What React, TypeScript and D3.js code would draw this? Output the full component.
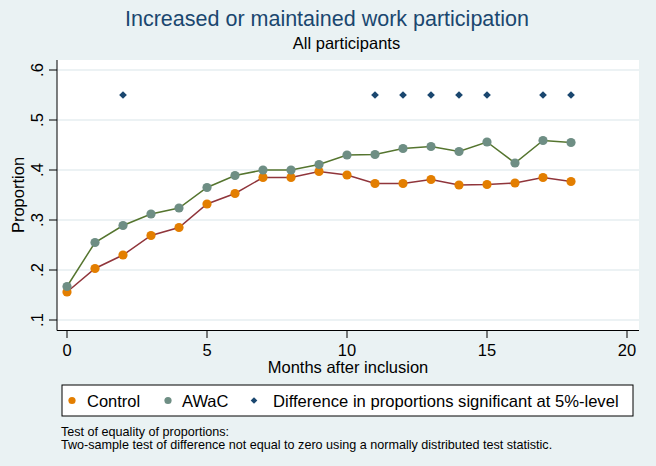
import React from "react";
import * as d3 from "d3";

const months = [0, 1, 2, 3, 4, 5, 6, 7, 8, 9, 10, 11, 12, 13, 14, 15, 16, 17, 18];
const controlValues = [0.156, 0.203, 0.23, 0.269, 0.285, 0.332, 0.353, 0.385, 0.385, 0.397, 0.39, 0.373, 0.373, 0.381, 0.37, 0.371, 0.374, 0.385, 0.377];
const awacValues = [0.167, 0.255, 0.289, 0.312, 0.324, 0.365, 0.389, 0.4, 0.4, 0.411, 0.43, 0.431, 0.443, 0.447, 0.437, 0.456, 0.414, 0.459, 0.455];
const sigMonths = [2, 11, 12, 13, 14, 15, 17, 18];
const sigLevel = 0.55;
const yTicks = [0.1, 0.2, 0.3, 0.4, 0.5, 0.6];
const yTickLabels = [".1", ".2", ".3", ".4", ".5", ".6"];
const xTicks = [0, 5, 10, 15, 20];
const legendLabels = ["Control", "AWaC", "Difference in proportions significant at 5%-level"];
const noteLines = [
  "Test of equality of proportions:",
  "Two-sample test of difference not equal to zero using a normally distributed test statistic.",
];

const FONT = "'Liberation Sans', Arial, Helvetica, sans-serif";
const C_NAVY = "#1a476f";
const C_MAROON = "#90353b";
const C_GREEN = "#55752f";
const C_ORANGE = "#e37e00";
const C_TEAL = "#6e8e84";

export default function App() {
  const W = 656, H = 466;
  const plot = { left: 57, right: 639, top: 60, bottom: 330.5 };
  const x = d3.scaleLinear().domain([0, 20]).range([67, 627]);
  const y = d3.scaleLinear().domain([0.1, 0.6]).range([320, 70]);

  const line = d3
    .line<number>()
    .x((_, i) => x(months[i]))
    .y((d) => y(d));

  const diamond = d3.symbol().type(d3.symbolSquare).size(30)() as string;

  return (
    <svg
      width={W}
      height={H}
      style={{ position: "absolute", left: 0, top: 0, display: "block" }}
      fontFamily={FONT}
    >
      <rect x={0} y={0} width={W} height={H} fill="#eaf2f3" />
      <rect x={plot.left} y={plot.top} width={plot.right - plot.left} height={plot.bottom - plot.top} fill="#ffffff" />

      {/* gridlines */}
      {yTicks.map((t) => (
        <line key={"g" + t} x1={plot.left} x2={plot.right} y1={y(t)} y2={y(t)} stroke="#e6eef0" strokeWidth={1.4} />
      ))}

      {/* titles */}
      <text x={327} y={26} textAnchor="middle" fontSize={21.5} fill={C_NAVY}>
        Increased or maintained work participation
      </text>
      <text x={346.5} y={49} textAnchor="middle" fontSize={16.5} fill="#000">
        All participants
      </text>

      {/* y axis */}
      <line x1={plot.left} x2={plot.left} y1={plot.top} y2={plot.bottom} stroke="#000" strokeWidth={1} />
      {yTicks.map((t, i) => (
        <g key={"y" + t}>
          <line x1={49} x2={plot.left} y1={y(t)} y2={y(t)} stroke="#000" strokeWidth={1} />
          <text
            transform={`translate(42.5,${y(t)}) rotate(-90)`}
            textAnchor="middle"
            fontSize={16.5}
            fill="#000"
          >
            {yTickLabels[i]}
          </text>
        </g>
      ))}
      <text transform={`translate(24,195) rotate(-90)`} textAnchor="middle" fontSize={16.5} fill="#000">
        Proportion
      </text>

      {/* x axis */}
      <line x1={plot.left} x2={plot.right} y1={plot.bottom} y2={plot.bottom} stroke="#000" strokeWidth={1} />
      {xTicks.map((t) => (
        <g key={"x" + t}>
          <line x1={x(t)} x2={x(t)} y1={plot.bottom} y2={338} stroke="#000" strokeWidth={1} />
          <text x={x(t)} y={356} textAnchor="middle" fontSize={16.5} fill="#000">
            {t}
          </text>
        </g>
      ))}
      <text x={348} y={373} textAnchor="middle" fontSize={16.5} fill="#000">
        Months after inclusion
      </text>

      {/* series */}
      <path d={line(controlValues) || ""} fill="none" stroke={C_MAROON} strokeWidth={1.5} />
      <path d={line(awacValues) || ""} fill="none" stroke={C_GREEN} strokeWidth={1.5} />
      {controlValues.map((v, i) => (
        <circle key={"c" + i} cx={x(months[i])} cy={y(v)} r={4.6} fill={C_ORANGE} />
      ))}
      {awacValues.map((v, i) => (
        <circle key={"a" + i} cx={x(months[i])} cy={y(v)} r={4.6} fill={C_TEAL} />
      ))}
      {sigMonths.map((m) => (
        <path key={"s" + m} d={diamond} transform={`translate(${x(m)},${y(sigLevel)}) rotate(45)`} fill={C_NAVY} />
      ))}

      {/* legend */}
      <rect x={62} y={385} width={571} height={31} fill="#fff" stroke="#000" strokeWidth={1} />
      <circle cx={72} cy={400.5} r={3.6} fill={C_ORANGE} />
      <text x={87} y={406.5} fontSize={16.5} fill="#000">{legendLabels[0]}</text>
      <circle cx={168} cy={400.5} r={3.6} fill={C_TEAL} />
      <text x={182} y={406.5} fontSize={16.5} fill="#000">{legendLabels[1]}</text>
      <path d={d3.symbol().type(d3.symbolSquare).size(22)() as string} transform={`translate(254,400.5) rotate(45)`} fill={C_NAVY} />
      <text x={273} y={406.5} fontSize={16.6} fill="#000">{legendLabels[2]}</text>

      {/* note */}
      {noteLines.map((l, i) => (
        <text key={"n" + i} x={61} y={435.5 + i * 13.5} fontSize={12.6} fill="#000">
          {l}
        </text>
      ))}
    </svg>
  );
}
